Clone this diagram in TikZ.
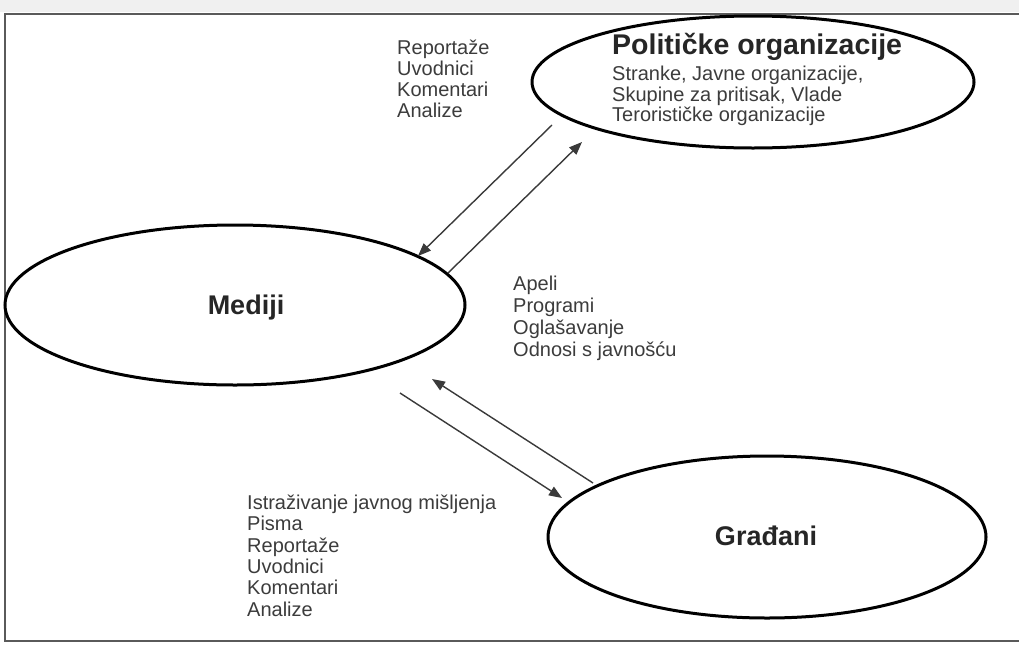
\documentclass[tikz,border=0pt]{standalone}
\usepackage{fontspec}
\setmainfont{Liberation Sans}
\usetikzlibrary{shapes.geometric,arrows.meta}
\definecolor{txt}{HTML}{3C3C3C}
\definecolor{arr}{HTML}{3A3A3A}
\definecolor{frm}{HTML}{5A5A5A}
\tikzset{
  oval/.style={ellipse, draw=black, line width=3pt, inner sep=0pt},
  lbl/.style={anchor=west, inner sep=0pt, text=txt, font=\fontsize{20}{22}\selectfont, text height=0.72em, text depth=0.2em},
  ttl/.style={inner sep=0pt, text=black!85, font=\bfseries\fontsize{27}{30}\selectfont, text height=0.72em, text depth=0.2em},
  bigttl/.style={ttl, font=\bfseries\fontsize{28.5}{31}\selectfont},
  conn/.style={draw=arr, line width=1.4pt, -{Triangle[length=13pt, width=10pt]}},
  frame/.style={draw=frm, line width=2.2pt}
}
\begin{document}
\begin{tikzpicture}[x=1pt, y=-1pt]
\useasboundingbox (0,0) rectangle (1019,646);
\fill[white] (0,0) rectangle (1019,646);
\fill[black!6] (0,0) rectangle (1019,12);
\coordinate (ftl) at (5,14);
\coordinate (ftr) at (1019,14);
\coordinate (fbl) at (5,641);
\coordinate (fbr) at (1019,641);
\draw[frame] (ftr) -- (ftl) -- (fbl) -- (fbr);
% ellipses
\node[oval, minimum width=442pt, minimum height=132pt] (pol) at (753,82) {};
\node[oval, minimum width=460pt, minimum height=160pt] (med) at (235,305) {};
\node[oval, minimum width=438pt, minimum height=162pt] (gra) at (767,537) {};
% titles
\node[bigttl, anchor=west] (polt) at (612,52) {Političke organizacije};
\node[ttl] (medt) at (246,312) {Mediji};
\node[ttl] (grat) at (766,543) {Građani};
% political subtitle
\foreach \t [count=\i] in {{Stranke, Javne organizacije,},{Skupine za pritisak, Vlade},{Terorističke organizacije}}
  \node[lbl] (pols\i) at (612,{78+20.5*(\i-1)}) {\t};
% top-left list
\foreach \t [count=\i] in {Reportaže,Uvodnici,Komentari,Analize}
  \node[lbl] (rep\i) at (397,{52+21*(\i-1)}) {\t};
% middle list
\foreach \t [count=\i] in {Apeli,Programi,Oglašavanje,Odnosi s javnošću}
  \node[lbl] (ape\i) at (513,{288+22*(\i-1)}) {\t};
% lower list
\foreach \t [count=\i] in {Istraživanje javnog mišljenja,Pisma,Reportaže,Uvodnici,Komentari,Analize}
  \node[lbl] (ist\i) at (247,{507+21.3*(\i-1)}) {\t};
% connector ends
\coordinate (a1s) at (552,125);
\coordinate (a1e) at (418,256);
\coordinate (a2s) at (448,273);
\coordinate (a2e) at (582,142);
\coordinate (a3s) at (593,483);
\coordinate (a3e) at (432,379);
\coordinate (a4s) at (400,393);
\coordinate (a4e) at (562,498);
\draw[conn] (a1s) -- (a1e);
\draw[conn] (a2s) -- (a2e);
\draw[conn] (a3s) -- (a3e);
\draw[conn] (a4s) -- (a4e);
\end{tikzpicture}
\end{document}
